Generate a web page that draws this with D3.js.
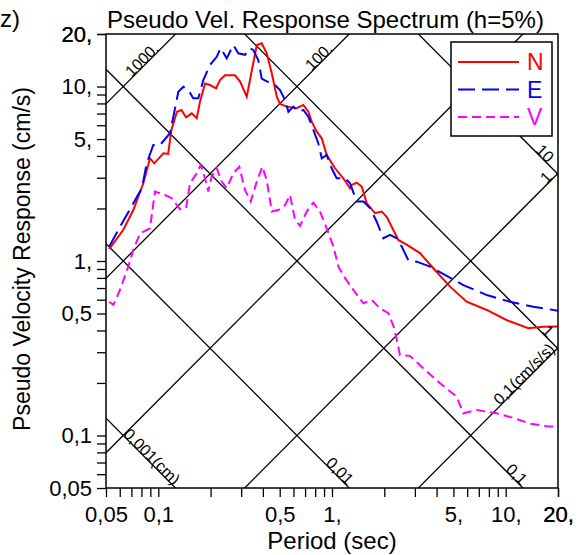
<!DOCTYPE html>
<html>
<head>
<meta charset="utf-8">
<script src="https://cdn.jsdelivr.net/npm/d3@7"></script>
<style>
body { margin: 0; background: #fff; }
text { font-family: "Liberation Sans", Arial, sans-serif; }
</style>
</head>
<body>
<script>
// response spectra: [period (sec), pseudo velocity (cm/s)]
var seriesN = [[0.0522,1.17],[0.0629,1.51],[0.0718,1.96],[0.082,2.79],[0.0896,3.88],[0.0948,3.63],[0.107,4.14],[0.114,4.11],
  [0.119,5.64],[0.128,7.17],[0.136,7.34],[0.1444,6.66],[0.1557,7.02],[0.1664,6.58],[0.1739,8.19],[0.1858,10.4],[0.1985,10.2],
  [0.215,9.77],[0.2266,10.9],[0.242,11.6],[0.2588,11.6],[0.2765,11.6],[0.2953,10.7],[0.323,8.74],[0.352,13.6],[0.369,17.3],
  [0.394,17.7],[0.421,15.5],[0.45,11.9],[0.481,8.74],[0.502,7.94],[0.549,7.67],[0.626,7.51],[0.684,7.84],[0.731,7.17],
  [0.764,6.29],[0.817,5.51],[0.873,5.05],[0.932,4.05],[1.041,3.4],[1.162,2.98],[1.27,2.61],[1.299,2.73],[1.388,2.81],
  [1.483,2.67],[1.585,2.14],[1.768,1.88],[1.933,1.92],[2.065,1.79],[2.206,1.57],[2.408,1.32],[2.69,1.24],[3.21,1.11],
  [3.83,0.909],[4.78,0.713],[5.96,0.584],[7.78,0.524],[10.1,0.459],[13.5,0.412],[16.5,0.42],[20,0.421]];
var seriesE = [[0.0522,1.21],[0.0602,1.57],[0.0718,2.14],[0.0804,2.61],[0.0858,3.63],[0.0936,4.62],[0.1023,4.62],[0.1168,5.4],
  [0.1221,6.72],[0.1304,9.34],[0.1393,9.98],[0.1488,9.55],[0.159,8.56],[0.17,8.56],[0.1816,10.9],[0.1985,13.3],[0.217,14.8],
  [0.2287,16.6],[0.2477,14.5],[0.2703,17.3],[0.2889,15.5],[0.3157,15.2],[0.3372,16.6],[0.352,16.2],[0.3765,14.2],[0.394,11.1],
  [0.421,10.7],[0.4596,10.4],[0.502,9.55],[0.5366,8.37],[0.561,7.17],[0.599,7.67],[0.64,7.17],[0.684,7.34],[0.731,6.72],
  [0.781,5.64],[0.834,4.73],[0.873,3.88],[0.932,4.05],[0.996,3.4],[1.064,2.98],[1.188,2.98],[1.27,2.79],[1.388,2.19],
  [1.515,2.19],[1.656,2.01],[1.809,1.68],[1.976,1.35],[2.158,1.41],[2.358,1.35],[2.52,1.21],[2.75,1.01],[3.07,0.991],
  [3.67,0.928],[4.47,0.832],[5.7,0.728],[7.78,0.638],[10.6,0.584],[14.4,0.547],[20,0.519]];
var seriesV = [[0.0522,0.584],[0.0551,0.56],[0.0602,0.682],[0.0672,0.928],[0.0718,1.16],[0.0785,1.44],[0.0896,1.54],[0.0957,2.5],
  [0.1093,2.39],[0.1194,2.29],[0.1333,1.98],[0.1444,2.01],[0.1523,2.79],[0.1664,3.18],[0.1755,3.55],[0.1858,2.98],[0.194,2.5],
  [0.203,3.04],[0.217,3.4],[0.2318,2.85],[0.2477,2.61],[0.2703,3.18],[0.2926,3.47],[0.3157,2.55],[0.3404,2.19],[0.369,2.85],
  [0.397,3.47],[0.421,2.91],[0.45,1.92],[0.491,1.96],[0.5366,2.09],[0.573,2.39],[0.613,1.72],[0.655,1.59],[0.715,1.92],
  [0.781,2.16],[0.853,1.92],[0.932,1.54],[1.019,1.21],[1.089,0.928],[1.188,0.8],[1.327,0.682],[1.515,0.572],[1.693,0.598],
  [1.89,0.536],[2.11,0.502],[2.28,0.413],[2.408,0.323],[2.46,0.289],[2.81,0.286],[3.35,0.243],[4.19,0.199],[5.22,0.167],
  [5.7,0.134],[6.81,0.14],[8.88,0.134],[11.1,0.126],[13.8,0.117],[17.2,0.113],[20,0.112]];

var seriesNames = ["N", "E", "V"];
var seriesColors = ["#ff0000", "#0000ff", "#ff00ff"];
var seriesDash = [null, "17,7", "9,5"];

// tick labels
var xTickValues = [0.05, 0.1, 0.5, 1, 5, 10, 20];
var xTickLabels = ["0,05", "0,1", "0,5", "1,", "5,", "10,", "20,"];
var yTickValues = [0.05, 0.1, 0.5, 1, 5, 10, 20];
var yTickLabels = ["0,05", "0,1", "0,5", "1,", "5,", "10,", "20,"];

// tripartite grid: displacement (cm) and acceleration (cm/s/s)
var dispValues = [0.001, 0.01, 0.1, 1, 10];
var dispLabels = ["0,001(cm)", "0,01", "0,1", "1", "10"];
var accValues = [1000, 100, 10, 1, 0.1];
var accLabels = ["1000.", "100.", "10.", "1", "0,1(cm/s/s)"];

var margin = {top: 34, right: 20, bottom: 67, left: 106},
    width = 578 - margin.left - margin.right,
    height = 555 - margin.top - margin.bottom;

var x = d3.scaleLog().domain([0.05, 20]).range([0, width]);
var y = d3.scaleLog().domain([0.05, 20]).range([height, 0]);

var svg = d3.select("body").append("svg")
    .attr("width", 578)
    .attr("height", 555);

var g = svg.append("g")
    .attr("transform", "translate(" + margin.left + "," + margin.top + ")");

g.append("clipPath").attr("id", "plotclip")
  .append("rect").attr("width", width).attr("height", height);

var plot = g.append("g").attr("clip-path", "url(#plotclip)");

// diagonal lines
var TWO_PI = 2 * Math.PI;
var ends = x.domain();
function dispLine(sd) { return ends.map(function(t) { return [x(t), y(TWO_PI * sd / t)]; }); }
function accLine(a) { return ends.map(function(t) { return [x(t), y(a * t / TWO_PI)]; }); }

var line = d3.line();
dispValues.forEach(function(sd) {
  plot.append("path").attr("d", line(dispLine(sd)))
    .attr("fill", "none").attr("stroke", "#000").attr("stroke-width", 1.3);
});
accValues.forEach(function(a) {
  plot.append("path").attr("d", line(accLine(a)))
    .attr("fill", "none").attr("stroke", "#000").attr("stroke-width", 1.3);
});

// diagonal labels, placed at where each line leaves the plot
var r2 = Math.SQRT1_2;
dispValues.forEach(function(sd, i) {
  var tb = TWO_PI * sd / 0.05, px, py, back;
  if (tb <= 20) { px = x(tb); py = height; back = 3; }
  else { px = width; py = y(TWO_PI * sd / 20); back = 15; }
  g.append("text")
    .attr("transform", "translate(" + (px - back * r2) + "," + (py - back * r2) + ") rotate(45)")
    .attr("text-anchor", "end")
    .attr("font-size", "16px")
    .text(dispLabels[i]);
});
accValues.forEach(function(a, i) {
  var tt = TWO_PI * 20 / a, px, py, back;
  if (tt <= 20) { px = x(tt); py = 0; back = 22; }
  else { px = width; py = y(a * 20 / TWO_PI); back = a < 1 ? 3 : 7; }
  g.append("text")
    .attr("transform", "translate(" + (px - back * r2) + "," + (py + back * r2) + ") rotate(-45)")
    .attr("text-anchor", "end")
    .attr("font-size", "16px")
    .text(accLabels[i]);
});

// spectra
var specLine = d3.line()
    .x(function(d) { return x(d[0]); })
    .y(function(d) { return y(d[1]); });

[seriesN, seriesE, seriesV].forEach(function(s, i) {
  plot.append("path")
    .attr("d", specLine(s))
    .attr("fill", "none")
    .attr("stroke", seriesColors[i])
    .attr("stroke-width", 2)
    .attr("stroke-dasharray", seriesDash[i]);
});

// legend
var legend = g.append("g").attr("transform", "translate(345,8)");
legend.append("rect")
  .attr("width", 101).attr("height", 94)
  .attr("fill", "#fff").attr("stroke", "#000").attr("stroke-width", 1.5);
seriesNames.forEach(function(name, i) {
  var ly = 20 + i * 27.5;
  legend.append("line")
    .attr("x1", 7).attr("x2", 68).attr("y1", ly).attr("y2", ly)
    .attr("stroke", seriesColors[i]).attr("stroke-width", 2)
    .attr("stroke-dasharray", seriesDash[i]);
  legend.append("text")
    .attr("x", 76).attr("y", ly + 8)
    .attr("font-size", "23px")
    .attr("fill", seriesColors[i])
    .text(name);
});

// axes with minor ticks
var minor = [];
[0.01, 0.1, 1, 10].forEach(function(dec) {
  for (var k = 1; k <= 9; k++) {
    var v = +(dec * k).toPrecision(3);
    if (v >= 0.05 && v <= 20) minor.push(v);
  }
});
minor.push(20);

function labelFor(vals, labels) {
  return function(d) {
    var i = vals.findIndex(function(v) { return Math.abs(v - d) < 1e-9; });
    return i < 0 ? "" : labels[i];
  };
}

var xAxis = g.append("g")
    .attr("transform", "translate(0," + height + ")")
    .call(d3.axisBottom(x).tickValues(minor).tickSize(9).tickPadding(9)
      .tickFormat(labelFor(xTickValues, xTickLabels)));
var yAxis = g.append("g")
    .call(d3.axisLeft(y).tickValues(minor).tickSize(9).tickPadding(5)
      .tickFormat(labelFor(yTickValues, yTickLabels)));

[xAxis, yAxis].forEach(function(ax) {
  ax.selectAll("text").attr("font-size", "22px").attr("font-family", "Liberation Sans, Arial, sans-serif").attr("fill", "#000");
  ax.selectAll("line").attr("stroke", "#000").attr("stroke-width", 1.3);
  ax.select(".domain").remove();
});

// frame
g.append("rect")
  .attr("width", width).attr("height", height)
  .attr("fill", "none").attr("stroke", "#000").attr("stroke-width", 1.5);

// titles
svg.append("text")
  .attr("x", margin.left + 1).attr("y", 28)
  .attr("font-size", "24px")
  .text("Pseudo Vel. Response Spectrum (h=5%)");

svg.append("text")
  .attr("x", 0).attr("y", 27)
  .attr("font-size", "24px")
  .text("z)");

svg.append("text")
  .attr("x", margin.left + width / 2).attr("y", 549)
  .attr("text-anchor", "middle")
  .attr("font-size", "24px")
  .text("Period (sec)");

svg.append("text")
  .attr("transform", "translate(30," + (margin.top + height / 2 - 2) + ") rotate(-90)")
  .attr("text-anchor", "middle")
  .attr("font-size", "23px")
  .text("Pseudo Velocity Response (cm/s)");
</script>
</body>
</html>
